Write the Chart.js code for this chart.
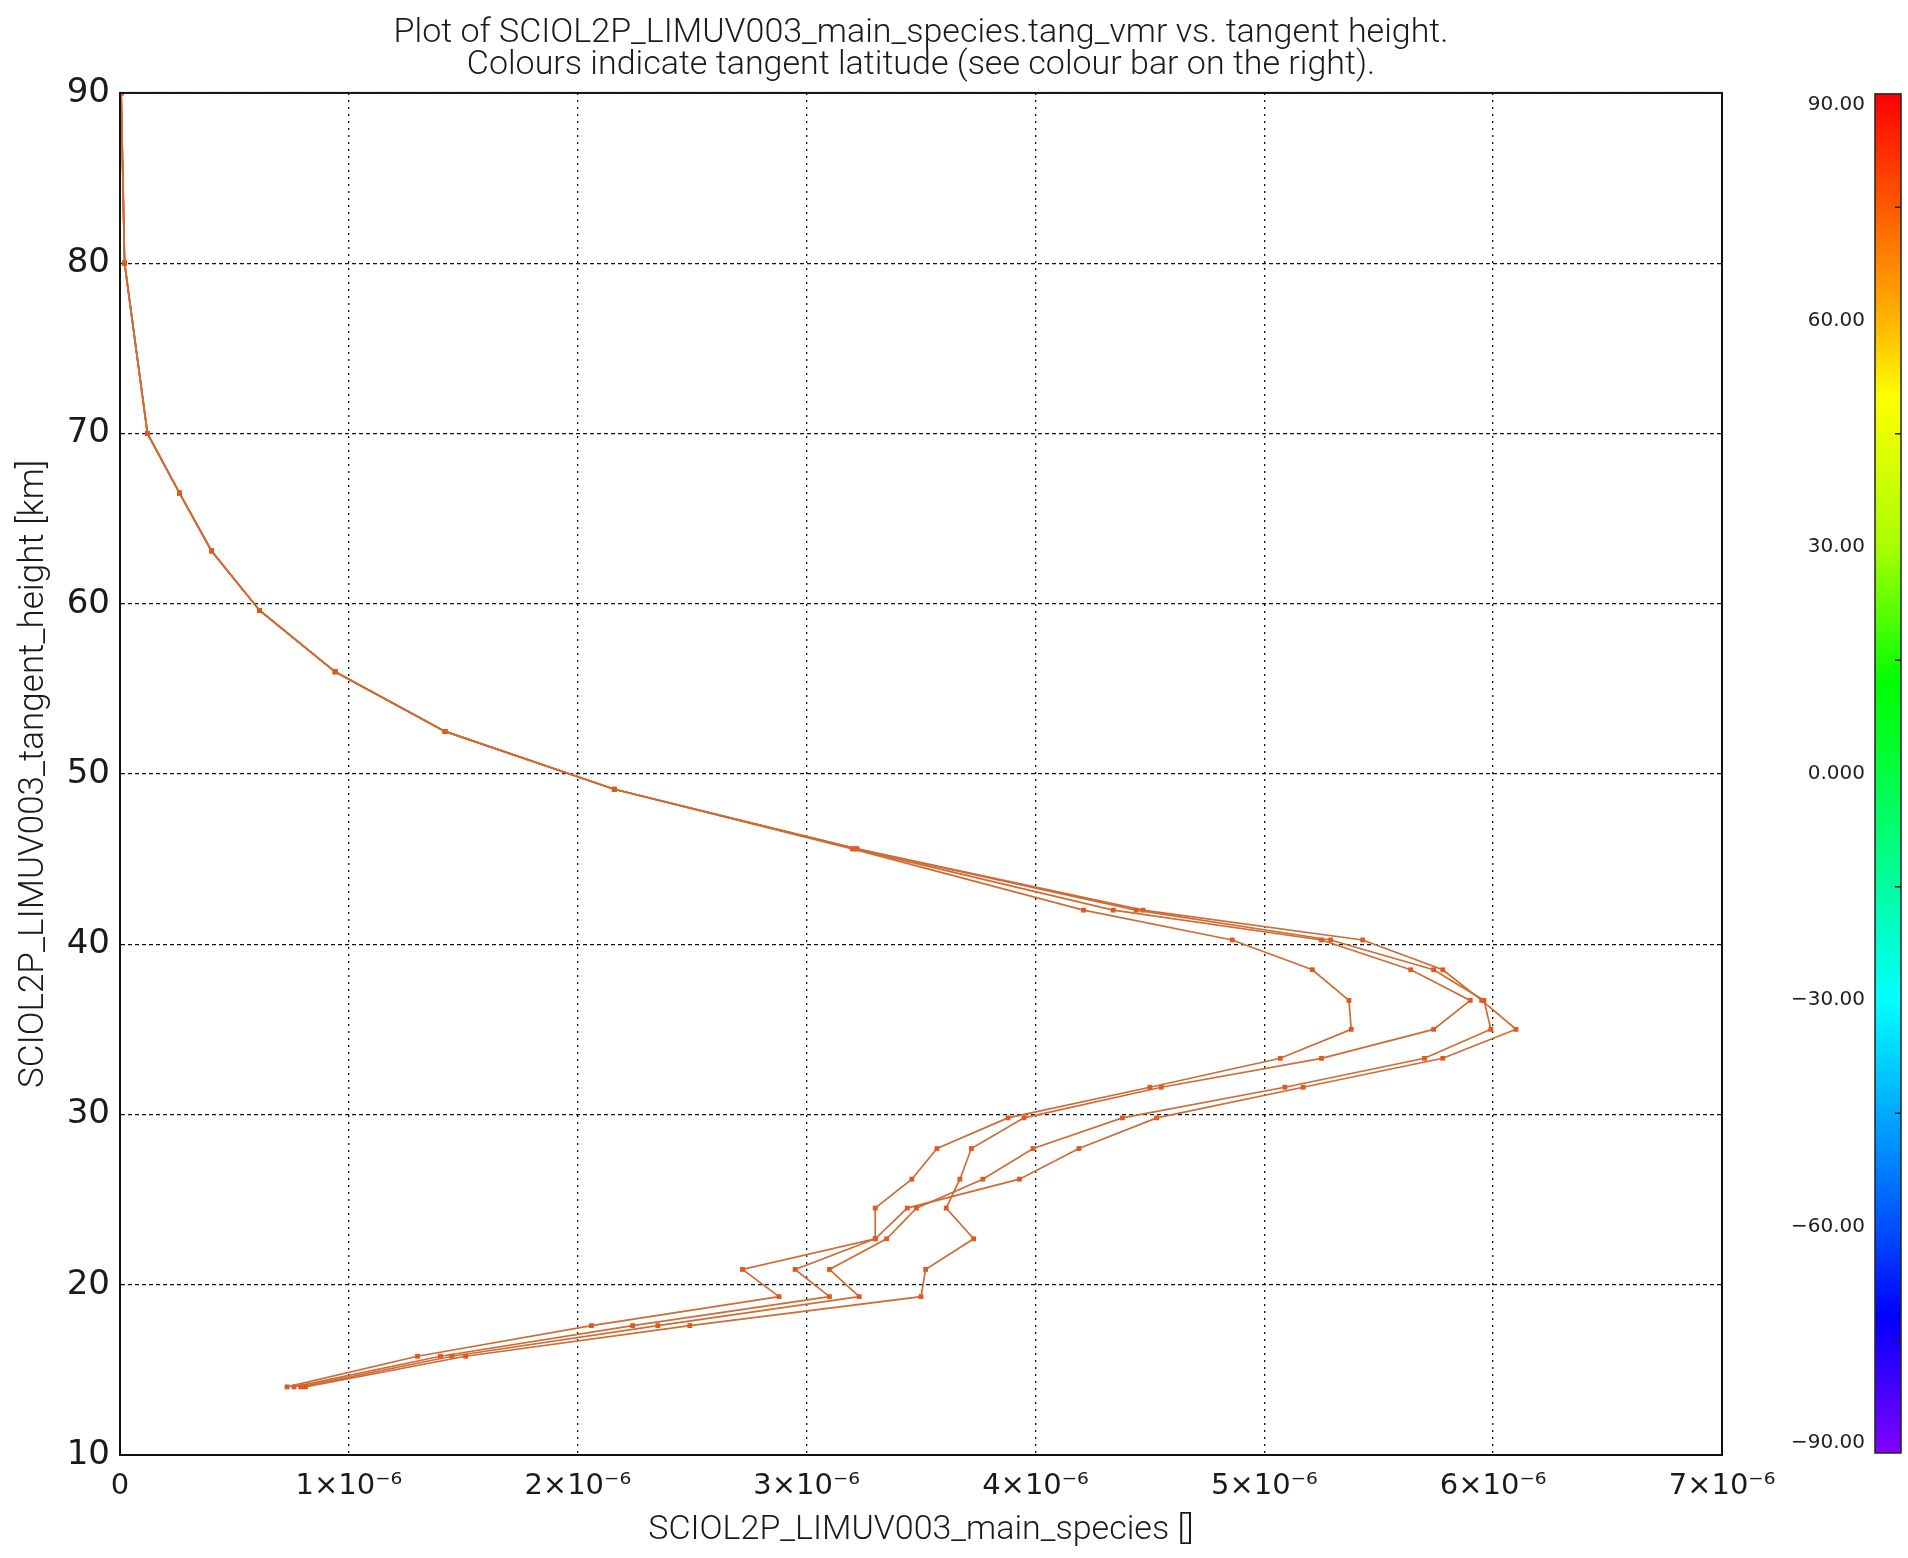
<!DOCTYPE html>
<html>
<head>
<meta charset="utf-8">
<title>SCIOL2P_LIMUV003 tang_vmr vs tangent height</title>
<script src="https://cdn.jsdelivr.net/npm/chart.js@4.4.1/dist/chart.umd.min.js"></script>
<style>
  html, body { margin: 0; padding: 0; background: #fff; }
  #wrap { width: 1908px; height: 1558px; }
</style>
</head>
<body>
<div id="wrap"><canvas id="profileChart" width="1908" height="1558"></canvas></div>
<script>
// tangent heights [km], shared by the four profiles
const profileHeights = [90, 80, 70, 66.5, 63.1, 59.6, 56.0, 52.5, 49.1, 45.6,
  42.0, 40.25, 38.5, 36.7, 35.0, 33.3, 31.6, 29.8, 28.0, 26.2, 24.5, 22.7, 20.9, 19.3, 17.6, 15.8, 14.0];

// vmr values, in units of 1e-6
const vmrProfileA = [0.005, 0.02, 0.12, 0.26, 0.40, 0.61, 0.94, 1.42, 2.16, 3.20,
  4.21, 4.86, 5.21, 5.37, 5.38, 5.07, 4.50, 3.88, 3.57, 3.46, 3.30, 3.30, 2.72, 2.88, 2.06, 1.30, 0.73];
const vmrProfileB = [0.005, 0.02, 0.12, 0.26, 0.40, 0.61, 0.94, 1.42, 2.16, 3.21,
  4.34, 5.25, 5.64, 5.90, 5.74, 5.25, 4.55, 3.95, 3.72, 3.67, 3.61, 3.73, 3.52, 3.50, 2.49, 1.51, 0.81];
const vmrProfileC = [0.005, 0.02, 0.12, 0.26, 0.40, 0.61, 0.94, 1.42, 2.16, 3.22,
  4.44, 5.29, 5.74, 5.96, 5.99, 5.70, 5.09, 4.38, 3.99, 3.77, 3.48, 3.35, 3.10, 3.23, 2.35, 1.45, 0.79];
const vmrProfileD = [0.005, 0.02, 0.12, 0.26, 0.40, 0.61, 0.94, 1.42, 2.16, 3.22,
  4.47, 5.43, 5.78, 5.95, 6.10, 5.78, 5.17, 4.53, 4.19, 3.93, 3.44, 3.30, 2.95, 3.10, 2.24, 1.40, 0.76];
const VMR_UNIT = 1e-6;

// colour bar (tangent latitude)
const colourBarTicks = [90, 60, 30, 0, -30, -60, -90];
const colourBarLabels = ['90.00', '60.00', '30.00', '0.000', '\u221230.00', '\u221260.00', '\u221290.00'];
const colourBarMinorTicks = [75, 45, 15, -15, -45, -75];
const colourStops = [
  [90, '#ff0000'], [75, '#ff5a00'], [60, '#ffb400'], [50, '#ffff00'], [30, '#a8ff00'],
  [12, '#00ff00'], [0, '#00ff40'], [-15, '#00ffa0'], [-30, '#00ffff'], [-45, '#00aaff'],
  [-60, '#0050ff'], [-72, '#0000ff'], [-90, '#8000ff']
];

const lineColour = 'rgb(206,108,54)';
const pointColour = 'rgb(226,88,30)';
const textFont = 'Roboto, "DejaVu Sans", sans-serif';

function makeDataset(vmr) {
  return {
    data: vmr.map((v, i) => ({ x: v * VMR_UNIT, y: profileHeights[i] })),
    showLine: true,
    borderColor: lineColour,
    borderWidth: 1.7,
    backgroundColor: pointColour,
    pointBackgroundColor: pointColour,
    pointBorderWidth: 0,
    pointStyle: 'rect',
    pointRadius: 3.4,
    tension: 0
  };
}

// frame round the plot and the colour bar on the right
const framePlugin = {
  id: 'frameAndColourBar',
  afterDraw(chart) {
    const ctx = chart.ctx;
    const a = chart.chartArea;
    ctx.save();
    ctx.strokeStyle = '#111';
    ctx.lineWidth = 2;
    ctx.strokeRect(a.left, a.top, a.right - a.left, a.bottom - a.top);

    // colour bar
    const barLeft = 1875, barRight = 1901;
    const top = a.top + 1, bottom = a.bottom - 2;
    const latToY = lat => top + (90 - lat) / 180 * (bottom - top);
    const grad = ctx.createLinearGradient(0, top, 0, bottom);
    colourStops.forEach(([lat, c]) => grad.addColorStop((90 - lat) / 180, c));
    ctx.fillStyle = grad;
    ctx.fillRect(barLeft, top, barRight - barLeft, bottom - top);
    ctx.lineWidth = 1.5;
    ctx.strokeStyle = '#222';
    ctx.strokeRect(barLeft, top, barRight - barLeft, bottom - top);
    ctx.beginPath();
    colourBarMinorTicks.forEach(lat => {
      const y = latToY(lat);
      ctx.moveTo(barRight - 6, y);
      ctx.lineTo(barRight, y);
    });
    ctx.stroke();

    ctx.fillStyle = '#222';
    ctx.font = '20px "DejaVu Sans", sans-serif';
    ctx.textAlign = 'right';
    colourBarTicks.forEach((lat, i) => {
      let y = latToY(lat);
      ctx.textBaseline = 'middle';
      if (i === 0) { ctx.textBaseline = 'top'; y = top + 1; }
      if (i === colourBarTicks.length - 1) { ctx.textBaseline = 'bottom'; y = bottom; }
      ctx.fillText(colourBarLabels[i], 1865, y);
    });
    ctx.restore();
  }
};

new Chart(document.getElementById('profileChart'), {
  type: 'scatter',
  data: {
    datasets: [
      makeDataset(vmrProfileA),
      makeDataset(vmrProfileB),
      makeDataset(vmrProfileC),
      makeDataset(vmrProfileD)
    ]
  },
  options: {
    responsive: false,
    animation: false,
    events: [],
    layout: { padding: { left: 0, right: 186, top: 0, bottom: 0 } },
    plugins: {
      legend: { display: false },
      tooltip: { enabled: false },
      title: {
        display: true,
        fullSize: false,
        text: [
          'Plot of SCIOL2P_LIMUV003_main_species.tang_vmr vs. tangent height.',
          'Colours indicate tangent latitude (see colour bar on the right).'
        ],
        color: '#1a1a1a',
        font: { family: textFont, size: 34, weight: 300, lineHeight: 0.94 },
        padding: { top: 18, bottom: 11 }
      }
    },
    scales: {
      x: {
        type: 'linear',
        min: 0,
        max: 7e-6,
        afterFit(scale) { scale.height = 103; },
        ticks: {
          stepSize: 1e-6,
          maxRotation: 0,
          autoSkip: false,
          padding: 14,
          color: '#1a1a1a',
          font: { family: '"DejaVu Sans", sans-serif', size: 29 },
          callback(value) {
            const n = Math.round(value / 1e-6);
            return n === 0 ? '0' : n + '\u00d710\u207b\u2076';
          }
        },
        grid: { color: '#111', lineWidth: 1.3, drawTicks: false },
        border: { color: '#111', width: 2, dash: [2, 5] },
        title: {
          display: true,
          text: 'SCIOL2P_LIMUV003_main_species []',
          color: '#1a1a1a',
          font: { family: textFont, size: 34, weight: 300, lineHeight: 1.2 },
          padding: { top: 0, bottom: 7 }
        }
      },
      y: {
        type: 'linear',
        min: 10,
        max: 90,
        afterFit(scale) { scale.width = 120; },
        ticks: {
          stepSize: 10,
          padding: 10,
          color: '#1a1a1a',
          font: { family: '"DejaVu Sans", sans-serif', size: 34 }
        },
        grid: { color: '#111', lineWidth: 1.3, drawTicks: false },
        border: { color: '#111', width: 2, dash: [4, 3] },
        title: {
          display: true,
          text: 'SCIOL2P_LIMUV003_tangent_height [km]',
          color: '#1a1a1a',
          font: { family: textFont, size: 35, weight: 300, lineHeight: 1.2 },
          padding: { top: 13, bottom: 0 }
        }
      }
    }
  },
  plugins: [framePlugin]
});
</script>
</body>
</html>
